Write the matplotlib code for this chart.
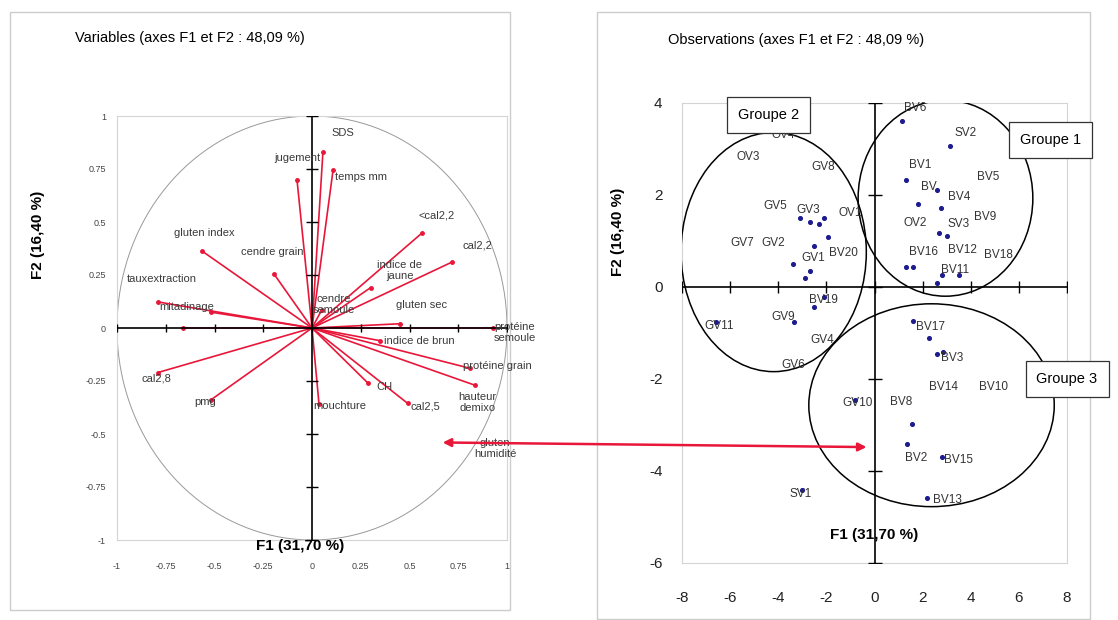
import matplotlib

matplotlib.use("Agg")
import matplotlib.pyplot as plt
from matplotlib.patches import Ellipse, Rectangle, ConnectionPatch
import numpy as np

plt.rcParams["font.family"] = ["Liberation Sans", "DejaVu Sans"]
plt.rcParams["axes.unicode_minus"] = False

# --- variables (correlation circle) ---
var_names = ["SDS", "jugement", "temps mm", "<cal2,2", "cal2,2", "indice de\njaune",
             "gluten sec", "cendre\nsemoule", "protéine\nsemoule", "indice de brun",
             "protéine grain", "hauteur\ndemixo", "CH", "cal2,5", "mouchture",
             "gluten index", "cendre grain", "tauxextraction", "mitadinage", "cal2,8",
             "pmg", "gluten\nhumidité"]
var_f1 = [0.056, -0.077, 0.108, 0.564, 0.718, 0.30, 0.45, 0.05, 0.93, 0.35,
          0.81, 0.836, 0.287, 0.49, 0.036, -0.564, -0.195, -0.79, -0.52, -0.79,
          -0.52, -0.66]
var_f2 = [0.83, 0.70, 0.745, 0.448, 0.311, 0.19, 0.02, 0.085, 0.0, -0.06,
          -0.19, -0.27, -0.26, -0.355, -0.36, 0.363, 0.255, 0.123, 0.075, -0.21,
          -0.34, 0.0]
var_lab_x = [0.16, -0.077, 0.25, 0.64, 0.85, 0.45, 0.56, 0.11, 1.04, 0.55,
             0.95, 0.85, 0.37, 0.58, 0.14, -0.55, -0.205, -0.77, -0.64, -0.80,
             -0.55, 0.94]
var_lab_y = [0.92, 0.80, 0.71, 0.53, 0.39, 0.27, 0.11, 0.11, -0.02, -0.06,
             -0.18, -0.35, -0.28, -0.37, -0.37, 0.45, 0.36, 0.23, 0.10, -0.24,
             -0.35, -0.57]
var_ticks = [-1, -0.75, -0.5, -0.25, 0, 0.25, 0.5, 0.75, 1]

# --- observations ---
obs_x = [-3.1, -2.7, -2.3, -2.1, -1.95, -2.5, -3.4, -2.7, -2.9,
         -2.5, -2.1, -6.6, -3.35, -0.8, -3.0,
         1.15, 3.15, 1.3, 2.6, 1.8, 2.75, 2.7, 3.0, 1.3, 1.6, 2.8, 3.5, 2.6,
         1.6, 2.25, 2.6, 2.85, 1.55, 1.35, 2.8, 2.2]
obs_y = [1.5, 1.41, 1.37, 1.5, 1.09, 0.9, 0.5, 0.35, 0.2,
         -0.43, -0.22, -0.76, -0.76, -2.46, -4.41,
         3.6, 3.07, 2.33, 2.1, 1.8, 1.72, 1.17, 1.1, 0.43, 0.43, 0.26, 0.26, 0.09,
         -0.74, -1.11, -1.46, -1.41, -2.98, -3.41, -3.7, -4.59]
obs_names = ["OV4", "OV3", "GV8", "GV5", "GV3", "OV1", "GV7", "GV2", "GV1", "BV20",
             "BV19", "GV11", "GV9", "GV4", "GV6", "GV10", "SV1",
             "BV6", "SV2", "BV1", "BV5", "BV", "BV4", "OV2", "SV3", "BV9", "BV16",
             "BV12", "BV18", "BV11",
             "BV17", "BV3", "BV14", "BV10", "BV8", "BV2", "BV15", "BV13"]
obs_lab_x = [-3.78, -5.23, -2.12, -4.11, -2.74, -1.0, -5.48, -4.19, -2.53, -1.29,
             -2.12, -6.47, -3.78, -2.16, -3.36, -0.71, -3.07,
             1.70, 3.78, 1.91, 4.73, 2.24, 3.53, 1.70, 3.49, 4.61, 2.03,
             3.65, 5.15, 3.36,
             2.32, 3.24, 2.86, 4.94, 1.12, 1.74, 3.49, 3.03]
obs_lab_y = [3.30, 2.83, 2.61, 1.76, 1.67, 1.61, 0.96, 0.96, 0.63, 0.74,
             -0.28, -0.85, -0.65, -1.15, -1.70, -2.52, -4.50,
             3.89, 3.35, 2.65, 2.39, 2.17, 1.96, 1.39, 1.37, 1.52, 0.76,
             0.80, 0.70, 0.37,
             -0.87, -1.54, -2.17, -2.17, -2.50, -3.72, -3.76, -4.63]
obs_xticks = [-8, -6, -4, -2, 0, 2, 4, 6, 8]
obs_yticks = [-6, -4, -2, 0, 2, 4]

groups = ["Groupe 1", "Groupe 2", "Groupe 3"]
group_cx = [2.95, -4.19, 2.37]
group_cy = [1.93, 0.76, -2.57]
group_w = [7.26, 7.7, 10.2]
group_h = [4.26, 5.2, 4.41]
group_box_x = [7.3, -4.4, 8.0]
group_box_y = [3.2, 3.74, -2.0]

RED = "#e8173a"
GRID = "#d4d4d4"

fig = plt.figure(figsize=(11.18, 6.2), dpi=100)

# panel frames (behind everything)
for x0, y0, x1, y1 in [(10, 12, 510, 610), (597, 12, 1090, 619)]:
    fig.patches.append(Rectangle((x0 / 1118, 1 - y1 / 620), (x1 - x0) / 1118, (y1 - y0) / 620,
                                 transform=fig.transFigure, fill=False, edgecolor="#cccccc",
                                 lw=1, zorder=-5))

# ---------- left: variables ----------
ax1 = fig.add_axes([117 / 1118, 80 / 620, 390 / 1118, 424 / 620])
ax1.set_xlim(-1, 1)
ax1.set_ylim(-1, 1)
for s in ax1.spines.values():
    s.set_color(GRID)
    s.set_linewidth(0.8)
ax1.set_xticks(var_ticks)
ax1.set_yticks(var_ticks)
ax1.set_xticklabels([f"{t:g}" for t in var_ticks])
ax1.set_yticklabels([f"{t:g}" for t in var_ticks])
ax1.tick_params(length=0, labelsize=6.5, labelcolor="#444444")
ax1.tick_params(axis="x", pad=16)
ax1.tick_params(axis="y", pad=8)

t = np.linspace(0, 2 * np.pi, 300)
ax1.plot(np.cos(t), np.sin(t), color="#999999", lw=0.7, zorder=1)
for x, y in zip(var_f1, var_f2):
    ax1.plot([0, x], [0, y], color=RED, lw=1.2, zorder=2)
    ax1.plot(x, y, "o", color=RED, ms=2.5, zorder=2)
ax1.plot([-1, 1], [0, 0], color="black", lw=1.2, zorder=3)
ax1.plot([0, 0], [-1, 1], color="black", lw=1.2, zorder=3)
ax1.plot(var_ticks, [0] * len(var_ticks), "|", color="black", ms=6, mew=1, zorder=3)
ax1.plot([0] * len(var_ticks), var_ticks, "_", color="black", ms=8, mew=1, zorder=3)
for name, x, y in zip(var_names, var_lab_x, var_lab_y):
    ax1.text(x, y, name, fontsize=8, color="#3a3a3a", ha="center", va="center",
             linespacing=1.1, zorder=4)

fig.text(75 / 1118, 1 - 38 / 620, "Variables (axes F1 et F2 : 48,09 %)", fontsize=10.5,
         ha="left", va="center")
fig.text(38 / 1118, 1 - 235 / 620, "F2 (16,40 %)", fontsize=11, fontweight="bold",
         rotation=90, ha="center", va="center")
fig.text(300 / 1118, 1 - 546 / 620, "F1 (31,70 %)", fontsize=11, fontweight="bold",
         ha="center", va="center")

# ---------- right: observations ----------
ax2 = fig.add_axes([682 / 1118, 57 / 620, 385 / 1118, 460 / 620])
ax2.set_xlim(-8, 8)
ax2.set_ylim(-6, 4)
for s in ax2.spines.values():
    s.set_color(GRID)
    s.set_linewidth(0.8)
ax2.set_xticks(obs_xticks)
ax2.set_yticks(obs_yticks)
ax2.tick_params(length=0, labelsize=11, labelcolor="#222222")
ax2.tick_params(axis="x", pad=20)
ax2.tick_params(axis="y", pad=14)

ax2.plot([-8, 8], [0, 0], color="black", lw=1.2, zorder=3)
ax2.plot([0, 0], [-6, 4], color="black", lw=1.2, zorder=3)
ax2.plot(obs_xticks, [0] * len(obs_xticks), "|", color="black", ms=8, mew=1, zorder=3)
ax2.plot([0] * len(obs_yticks), obs_yticks, "_", color="black", ms=10, mew=1, zorder=3)

ax2.scatter(obs_x, obs_y, s=7, color="#1c1c8f", zorder=4)
for name, x, y in zip(obs_names, obs_lab_x, obs_lab_y):
    ax2.text(x, y, name, fontsize=8.5, color="#333333", ha="center", va="center", zorder=5)

for g, cx, cy, w, h, bx, by in zip(groups, group_cx, group_cy, group_w, group_h,
                                   group_box_x, group_box_y):
    ax2.add_patch(Ellipse((cx, cy), w, h, fill=False, edgecolor="black", lw=1.1, zorder=3))
    ax2.text(bx, by, g, fontsize=10.5, ha="center", va="center", zorder=6, clip_on=False,
             bbox=dict(boxstyle="square,pad=0.75", facecolor="white", edgecolor="#333333", lw=0.9))

fig.text(668 / 1118, 1 - 40 / 620, "Observations (axes F1 et F2 : 48,09 %)", fontsize=10.5,
         ha="left", va="center")
fig.text(618 / 1118, 1 - 232 / 620, "F2 (16,40 %)", fontsize=11, fontweight="bold",
         rotation=90, ha="center", va="center")
ax2.text(0, -5.4, "F1 (31,70 %)", fontsize=11, fontweight="bold", ha="center",
         va="center", zorder=6)

# link arrow between the two panels
arrow = ConnectionPatch(xyA=(0.67, -0.54), coordsA=ax1.transData,
                        xyB=(-0.33, -3.48), coordsB=ax2.transData,
                        arrowstyle="<|-|>", color=RED, lw=1.8, mutation_scale=12, zorder=10)
fig.add_artist(arrow)

fig.savefig("out.png", dpi=100)
